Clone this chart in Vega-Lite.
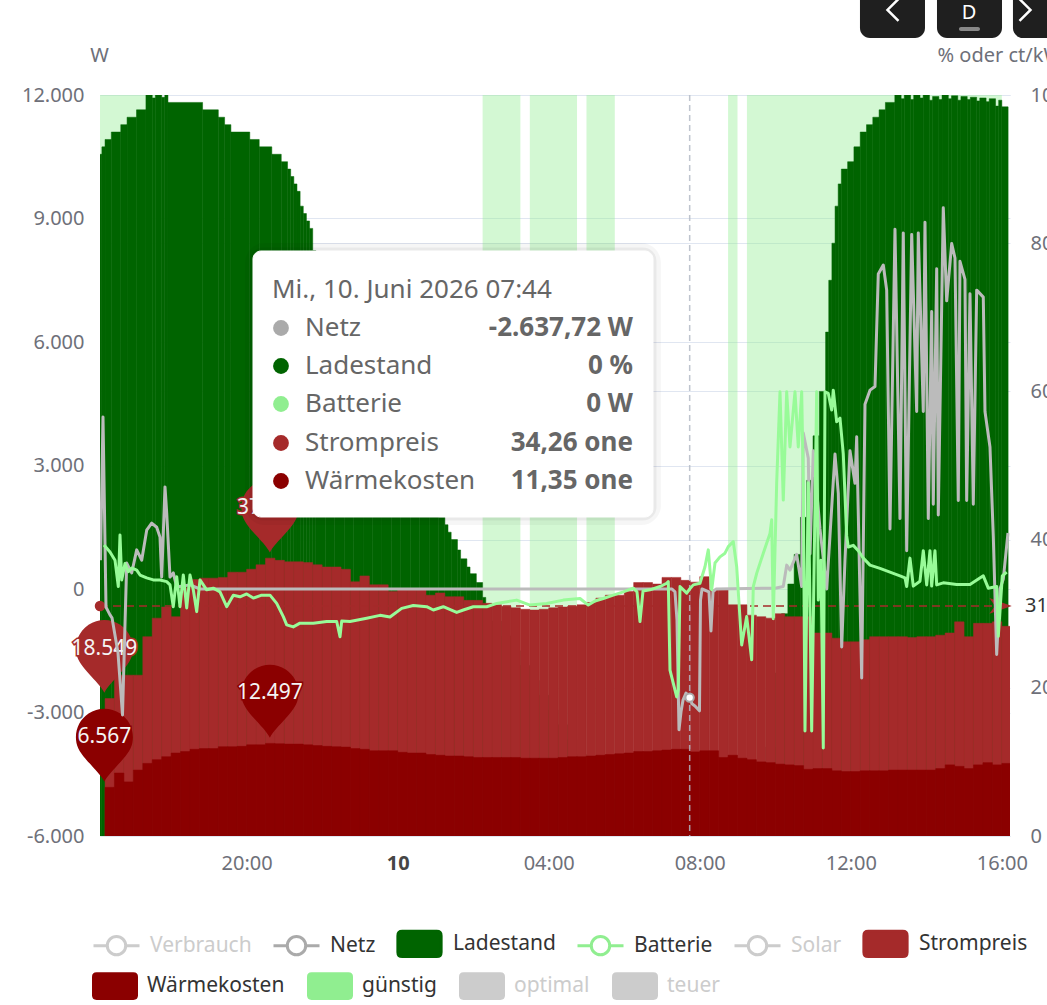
{
"$schema":"https://vega.github.io/schema/vega-lite/v6.json",
"width":910,"height":741,
"autosize":{"type":"none"},
"padding":{"left":100,"top":95,"right":37,"bottom":169},
"background":"white",
"config":{"font":"Noto Sans","view":{"stroke":null},
"axis":{"labelFont":"Noto Sans","labelFontSize":20,"labelColor":"#6e7079","titleFont":"Noto Sans","titleFontSize":20,"titleColor":"#6e7079","titleFontWeight":"normal","ticks":false,"domain":false,"gridColor":"#e0e6f1","gridWidth":1}},
"datasets":{
"bands":[
{"t":"2026-06-09T16:00","e":"2026-06-09T17:45"},
{"t":"2026-06-10T02:15","e":"2026-06-10T03:15"},
{"t":"2026-06-10T03:30","e":"2026-06-10T04:45"},
{"t":"2026-06-10T05:00","e":"2026-06-10T05:45"},
{"t":"2026-06-10T08:45","e":"2026-06-10T09:00"},
{"t":"2026-06-10T09:15","e":"2026-06-10T16:00"}],
"soc":[
{"t":"2026-06-09T16:00","e":"2026-06-09T16:10","soc":92},
{"t":"2026-06-09T16:10","e":"2026-06-09T16:15","soc":93},
{"t":"2026-06-09T16:15","e":"2026-06-09T16:25","soc":94},
{"t":"2026-06-09T16:25","e":"2026-06-09T16:40","soc":95},
{"t":"2026-06-09T16:40","e":"2026-06-09T16:50","soc":96},
{"t":"2026-06-09T16:50","e":"2026-06-09T17:05","soc":97},
{"t":"2026-06-09T17:05","e":"2026-06-09T17:20","soc":98},
{"t":"2026-06-09T17:20","e":"2026-06-09T17:30","soc":100},
{"t":"2026-06-09T17:30","e":"2026-06-09T17:35","soc":99.6},
{"t":"2026-06-09T17:35","e":"2026-06-09T17:45","soc":100},
{"t":"2026-06-09T17:45","e":"2026-06-09T17:50","soc":99.7},
{"t":"2026-06-09T17:50","e":"2026-06-09T17:55","soc":100},
{"t":"2026-06-09T17:55","e":"2026-06-09T18:50","soc":99},
{"t":"2026-06-09T18:50","e":"2026-06-09T19:15","soc":98},
{"t":"2026-06-09T19:15","e":"2026-06-09T19:25","soc":97},
{"t":"2026-06-09T19:25","e":"2026-06-09T19:35","soc":96},
{"t":"2026-06-09T19:35","e":"2026-06-09T20:05","soc":95},
{"t":"2026-06-09T20:05","e":"2026-06-09T20:20","soc":94},
{"t":"2026-06-09T20:20","e":"2026-06-09T20:40","soc":93},
{"t":"2026-06-09T20:40","e":"2026-06-09T20:55","soc":92},
{"t":"2026-06-09T20:55","e":"2026-06-09T21:05","soc":91},
{"t":"2026-06-09T21:05","e":"2026-06-09T21:10","soc":90},
{"t":"2026-06-09T21:10","e":"2026-06-09T21:15","soc":89},
{"t":"2026-06-09T21:15","e":"2026-06-09T21:20","soc":88},
{"t":"2026-06-09T21:20","e":"2026-06-09T21:25","soc":87},
{"t":"2026-06-09T21:25","e":"2026-06-09T21:30","soc":85},
{"t":"2026-06-09T21:30","e":"2026-06-09T21:35","soc":84},
{"t":"2026-06-09T21:35","e":"2026-06-09T21:40","soc":83},
{"t":"2026-06-09T21:40","e":"2026-06-09T21:45","soc":82},
{"t":"2026-06-09T21:45","e":"2026-06-09T21:50","soc":79},
{"t":"2026-06-09T21:50","e":"2026-06-09T22:05","soc":77},
{"t":"2026-06-09T22:05","e":"2026-06-09T22:20","soc":75},
{"t":"2026-06-09T22:20","e":"2026-06-09T22:35","soc":73},
{"t":"2026-06-09T22:35","e":"2026-06-09T22:50","soc":71},
{"t":"2026-06-09T22:50","e":"2026-06-09T23:05","soc":68},
{"t":"2026-06-09T23:05","e":"2026-06-09T23:20","soc":66},
{"t":"2026-06-09T23:20","e":"2026-06-09T23:35","soc":63},
{"t":"2026-06-09T23:35","e":"2026-06-09T23:50","soc":61},
{"t":"2026-06-09T23:50","e":"2026-06-10T00:05","soc":58},
{"t":"2026-06-10T00:05","e":"2026-06-10T00:20","soc":56},
{"t":"2026-06-10T00:20","e":"2026-06-10T00:35","soc":53},
{"t":"2026-06-10T00:35","e":"2026-06-10T00:50","soc":50},
{"t":"2026-06-10T00:50","e":"2026-06-10T01:05","soc":47},
{"t":"2026-06-10T01:05","e":"2026-06-10T01:15","soc":43},
{"t":"2026-06-10T01:15","e":"2026-06-10T01:20","soc":42},
{"t":"2026-06-10T01:20","e":"2026-06-10T01:25","soc":41},
{"t":"2026-06-10T01:25","e":"2026-06-10T01:35","soc":40},
{"t":"2026-06-10T01:35","e":"2026-06-10T01:40","soc":38.6},
{"t":"2026-06-10T01:40","e":"2026-06-10T01:50","soc":37.4},
{"t":"2026-06-10T01:50","e":"2026-06-10T01:55","soc":36.3},
{"t":"2026-06-10T01:55","e":"2026-06-10T02:05","soc":35.4},
{"t":"2026-06-10T02:05","e":"2026-06-10T02:15","soc":34.2},
{"t":"2026-06-10T02:15","e":"2026-06-10T02:20","soc":32.2},
{"t":"2026-06-10T02:20","e":"2026-06-10T02:30","soc":31.3},
{"t":"2026-06-10T02:30","e":"2026-06-10T02:45","soc":29},
{"t":"2026-06-10T02:45","e":"2026-06-10T03:00","soc":27},
{"t":"2026-06-10T03:00","e":"2026-06-10T03:15","soc":25},
{"t":"2026-06-10T03:15","e":"2026-06-10T03:30","soc":23},
{"t":"2026-06-10T03:30","e":"2026-06-10T03:45","soc":21},
{"t":"2026-06-10T03:45","e":"2026-06-10T04:00","soc":19},
{"t":"2026-06-10T04:00","e":"2026-06-10T04:15","soc":17},
{"t":"2026-06-10T04:15","e":"2026-06-10T04:30","soc":15},
{"t":"2026-06-10T04:30","e":"2026-06-10T04:45","soc":13},
{"t":"2026-06-10T04:45","e":"2026-06-10T05:00","soc":11},
{"t":"2026-06-10T05:00","e":"2026-06-10T05:15","soc":9},
{"t":"2026-06-10T05:15","e":"2026-06-10T05:30","soc":7},
{"t":"2026-06-10T05:30","e":"2026-06-10T05:45","soc":5},
{"t":"2026-06-10T05:45","e":"2026-06-10T06:00","soc":3},
{"t":"2026-06-10T06:00","e":"2026-06-10T06:15","soc":1},
{"t":"2026-06-10T09:45","e":"2026-06-10T10:00","soc":12},
{"t":"2026-06-10T10:00","e":"2026-06-10T10:05","soc":22},
{"t":"2026-06-10T10:05","e":"2026-06-10T10:10","soc":26},
{"t":"2026-06-10T10:10","e":"2026-06-10T10:20","soc":30},
{"t":"2026-06-10T10:20","e":"2026-06-10T10:30","soc":34},
{"t":"2026-06-10T10:30","e":"2026-06-10T10:40","soc":38},
{"t":"2026-06-10T10:40","e":"2026-06-10T10:50","soc":43},
{"t":"2026-06-10T10:50","e":"2026-06-10T11:00","soc":48},
{"t":"2026-06-10T11:00","e":"2026-06-10T11:10","soc":54},
{"t":"2026-06-10T11:10","e":"2026-06-10T11:20","soc":60},
{"t":"2026-06-10T11:20","e":"2026-06-10T11:25","soc":68},
{"t":"2026-06-10T11:25","e":"2026-06-10T11:30","soc":75},
{"t":"2026-06-10T11:30","e":"2026-06-10T11:35","soc":80},
{"t":"2026-06-10T11:35","e":"2026-06-10T11:40","soc":85},
{"t":"2026-06-10T11:40","e":"2026-06-10T11:45","soc":88},
{"t":"2026-06-10T11:45","e":"2026-06-10T11:55","soc":90},
{"t":"2026-06-10T11:55","e":"2026-06-10T12:05","soc":91},
{"t":"2026-06-10T12:05","e":"2026-06-10T12:15","soc":93},
{"t":"2026-06-10T12:15","e":"2026-06-10T12:25","soc":95},
{"t":"2026-06-10T12:25","e":"2026-06-10T12:35","soc":96},
{"t":"2026-06-10T12:35","e":"2026-06-10T12:45","soc":97},
{"t":"2026-06-10T12:45","e":"2026-06-10T12:55","soc":98},
{"t":"2026-06-10T12:55","e":"2026-06-10T13:10","soc":99},
{"t":"2026-06-10T13:10","e":"2026-06-10T13:20","soc":100},
{"t":"2026-06-10T13:20","e":"2026-06-10T13:25","soc":99.5},
{"t":"2026-06-10T13:25","e":"2026-06-10T13:35","soc":100},
{"t":"2026-06-10T13:35","e":"2026-06-10T13:40","soc":99.4},
{"t":"2026-06-10T13:40","e":"2026-06-10T13:50","soc":100},
{"t":"2026-06-10T13:50","e":"2026-06-10T13:55","soc":99.6},
{"t":"2026-06-10T13:55","e":"2026-06-10T14:05","soc":100},
{"t":"2026-06-10T14:05","e":"2026-06-10T14:10","soc":99.3},
{"t":"2026-06-10T14:10","e":"2026-06-10T14:20","soc":99.8},
{"t":"2026-06-10T14:20","e":"2026-06-10T14:25","soc":99.4},
{"t":"2026-06-10T14:25","e":"2026-06-10T14:35","soc":100},
{"t":"2026-06-10T14:35","e":"2026-06-10T14:40","soc":99.5},
{"t":"2026-06-10T14:40","e":"2026-06-10T14:50","soc":99.9},
{"t":"2026-06-10T14:50","e":"2026-06-10T14:55","soc":99.3},
{"t":"2026-06-10T14:55","e":"2026-06-10T15:05","soc":99.8},
{"t":"2026-06-10T15:05","e":"2026-06-10T15:10","soc":99.4},
{"t":"2026-06-10T15:10","e":"2026-06-10T15:20","soc":99.7},
{"t":"2026-06-10T15:20","e":"2026-06-10T15:25","soc":99.2},
{"t":"2026-06-10T15:25","e":"2026-06-10T15:35","soc":99.6},
{"t":"2026-06-10T15:35","e":"2026-06-10T15:40","soc":99.1},
{"t":"2026-06-10T15:40","e":"2026-06-10T15:50","soc":99.5},
{"t":"2026-06-10T15:50","e":"2026-06-10T15:55","soc":98.5},
{"t":"2026-06-10T15:55","e":"2026-06-10T16:00","soc":99.3},
{"t":"2026-06-10T16:00","e":"2026-06-10T16:10","soc":98.4}],
"price":[
{"t":"2026-06-09T16:15","e":"2026-06-09T16:30","p":18.549,"w":6.567},
{"t":"2026-06-09T16:30","e":"2026-06-09T16:45","p":21.7,"w":8.5},
{"t":"2026-06-09T16:45","e":"2026-06-09T17:00","p":21.7,"w":7.3},
{"t":"2026-06-09T17:00","e":"2026-06-09T17:15","p":21.7,"w":8.9},
{"t":"2026-06-09T17:15","e":"2026-06-09T17:30","p":26.9,"w":9.8},
{"t":"2026-06-09T17:30","e":"2026-06-09T17:45","p":29.4,"w":10.3},
{"t":"2026-06-09T17:45","e":"2026-06-09T18:00","p":30.9,"w":10.7},
{"t":"2026-06-09T18:00","e":"2026-06-09T18:15","p":29.6,"w":11.2},
{"t":"2026-06-09T18:15","e":"2026-06-09T18:30","p":33.5,"w":11.4},
{"t":"2026-06-09T18:30","e":"2026-06-09T18:45","p":34.6,"w":11.7},
{"t":"2026-06-09T18:45","e":"2026-06-09T19:00","p":34.8,"w":11.8},
{"t":"2026-06-09T19:00","e":"2026-06-09T19:15","p":34.8,"w":11.8},
{"t":"2026-06-09T19:15","e":"2026-06-09T19:30","p":34.9,"w":12.05},
{"t":"2026-06-09T19:30","e":"2026-06-09T19:45","p":35.6,"w":12.05},
{"t":"2026-06-09T19:45","e":"2026-06-09T20:00","p":35.6,"w":12.1},
{"t":"2026-06-09T20:00","e":"2026-06-09T20:15","p":36.0,"w":12.3},
{"t":"2026-06-09T20:15","e":"2026-06-09T20:30","p":36.6,"w":12.3},
{"t":"2026-06-09T20:30","e":"2026-06-09T20:45","p":37.5,"w":12.497},
{"t":"2026-06-09T20:45","e":"2026-06-09T21:00","p":37.2,"w":12.45},
{"t":"2026-06-09T21:00","e":"2026-06-09T21:15","p":37.0,"w":12.4},
{"t":"2026-06-09T21:15","e":"2026-06-09T21:30","p":37.0,"w":12.4},
{"t":"2026-06-09T21:30","e":"2026-06-09T21:45","p":36.9,"w":12.3},
{"t":"2026-06-09T21:45","e":"2026-06-09T22:00","p":36.6,"w":12.2},
{"t":"2026-06-09T22:00","e":"2026-06-09T22:15","p":36.3,"w":12.1},
{"t":"2026-06-09T22:15","e":"2026-06-09T22:30","p":36.3,"w":12.05},
{"t":"2026-06-09T22:30","e":"2026-06-09T22:45","p":36.0,"w":12.0},
{"t":"2026-06-09T22:45","e":"2026-06-09T23:00","p":34.3,"w":11.8},
{"t":"2026-06-09T23:00","e":"2026-06-09T23:15","p":35.1,"w":11.7},
{"t":"2026-06-09T23:15","e":"2026-06-09T23:30","p":33.9,"w":11.5},
{"t":"2026-06-09T23:30","e":"2026-06-09T23:45","p":33.9,"w":11.5},
{"t":"2026-06-09T23:45","e":"2026-06-10T00:00","p":33.0,"w":11.5},
{"t":"2026-06-10T00:00","e":"2026-06-10T00:15","p":33.2,"w":11.3},
{"t":"2026-06-10T00:15","e":"2026-06-10T00:30","p":33.2,"w":11.2},
{"t":"2026-06-10T00:30","e":"2026-06-10T00:45","p":33.2,"w":11.2},
{"t":"2026-06-10T00:45","e":"2026-06-10T01:00","p":32.5,"w":11.0},
{"t":"2026-06-10T01:00","e":"2026-06-10T01:15","p":32.8,"w":10.9},
{"t":"2026-06-10T01:15","e":"2026-06-10T01:30","p":32.3,"w":10.8},
{"t":"2026-06-10T01:30","e":"2026-06-10T01:45","p":32.3,"w":10.8},
{"t":"2026-06-10T01:45","e":"2026-06-10T02:00","p":31.8,"w":10.7},
{"t":"2026-06-10T02:00","e":"2026-06-10T02:15","p":31.8,"w":10.6},
{"t":"2026-06-10T02:15","e":"2026-06-10T02:30","p":31.4,"w":10.6},
{"t":"2026-06-10T02:30","e":"2026-06-10T02:45","p":31.2,"w":10.6},
{"t":"2026-06-10T02:45","e":"2026-06-10T03:00","p":31.0,"w":10.6},
{"t":"2026-06-10T03:00","e":"2026-06-10T03:15","p":30.8,"w":10.6},
{"t":"2026-06-10T03:15","e":"2026-06-10T03:30","p":30.6,"w":10.5},
{"t":"2026-06-10T03:30","e":"2026-06-10T03:45","p":30.5,"w":10.5},
{"t":"2026-06-10T03:45","e":"2026-06-10T04:00","p":30.6,"w":10.5},
{"t":"2026-06-10T04:00","e":"2026-06-10T04:15","p":30.8,"w":10.5},
{"t":"2026-06-10T04:15","e":"2026-06-10T04:30","p":30.9,"w":10.6},
{"t":"2026-06-10T04:30","e":"2026-06-10T04:45","p":31.0,"w":10.7},
{"t":"2026-06-10T04:45","e":"2026-06-10T05:00","p":31.2,"w":10.7},
{"t":"2026-06-10T05:00","e":"2026-06-10T05:15","p":31.5,"w":10.8},
{"t":"2026-06-10T05:15","e":"2026-06-10T05:30","p":32.1,"w":10.9},
{"t":"2026-06-10T05:30","e":"2026-06-10T05:45","p":32.5,"w":11.0},
{"t":"2026-06-10T05:45","e":"2026-06-10T06:00","p":32.5,"w":11.1},
{"t":"2026-06-10T06:00","e":"2026-06-10T06:15","p":33.0,"w":11.2},
{"t":"2026-06-10T06:15","e":"2026-06-10T06:30","p":34.2,"w":11.4},
{"t":"2026-06-10T06:30","e":"2026-06-10T06:45","p":34.2,"w":11.4},
{"t":"2026-06-10T06:45","e":"2026-06-10T07:00","p":34.0,"w":11.5},
{"t":"2026-06-10T07:00","e":"2026-06-10T07:15","p":34.9,"w":11.6},
{"t":"2026-06-10T07:15","e":"2026-06-10T07:30","p":34.9,"w":11.7},
{"t":"2026-06-10T07:30","e":"2026-06-10T07:45","p":34.5,"w":11.7},
{"t":"2026-06-10T07:45","e":"2026-06-10T08:00","p":34.26,"w":11.35},
{"t":"2026-06-10T08:00","e":"2026-06-10T08:15","p":35.0,"w":11.5},
{"t":"2026-06-10T08:15","e":"2026-06-10T08:30","p":33.2,"w":11.5},
{"t":"2026-06-10T08:30","e":"2026-06-10T08:45","p":33.2,"w":10.6},
{"t":"2026-06-10T08:45","e":"2026-06-10T09:00","p":31.2,"w":10.9},
{"t":"2026-06-10T09:00","e":"2026-06-10T09:15","p":31.2,"w":10.5},
{"t":"2026-06-10T09:15","e":"2026-06-10T09:30","p":29.8,"w":10.3},
{"t":"2026-06-10T09:30","e":"2026-06-10T09:45","p":29.6,"w":10.0},
{"t":"2026-06-10T09:45","e":"2026-06-10T10:00","p":29.4,"w":9.9},
{"t":"2026-06-10T10:00","e":"2026-06-10T10:15","p":30.0,"w":9.7},
{"t":"2026-06-10T10:15","e":"2026-06-10T10:30","p":29.6,"w":9.6},
{"t":"2026-06-10T10:30","e":"2026-06-10T10:45","p":29.6,"w":9.5},
{"t":"2026-06-10T10:45","e":"2026-06-10T11:00","p":29.6,"w":9.0},
{"t":"2026-06-10T11:00","e":"2026-06-10T11:15","p":27.4,"w":9.1},
{"t":"2026-06-10T11:15","e":"2026-06-10T11:30","p":27.4,"w":9.1},
{"t":"2026-06-10T11:30","e":"2026-06-10T11:45","p":26.7,"w":8.8},
{"t":"2026-06-10T11:45","e":"2026-06-10T12:00","p":26.2,"w":8.7},
{"t":"2026-06-10T12:00","e":"2026-06-10T12:15","p":26.2,"w":8.7},
{"t":"2026-06-10T12:15","e":"2026-06-10T12:30","p":26.5,"w":8.8},
{"t":"2026-06-10T12:30","e":"2026-06-10T12:45","p":26.9,"w":8.8},
{"t":"2026-06-10T12:45","e":"2026-06-10T13:00","p":26.9,"w":8.8},
{"t":"2026-06-10T13:00","e":"2026-06-10T13:15","p":26.9,"w":8.9},
{"t":"2026-06-10T13:15","e":"2026-06-10T13:30","p":26.9,"w":8.9},
{"t":"2026-06-10T13:30","e":"2026-06-10T13:45","p":26.8,"w":8.9},
{"t":"2026-06-10T13:45","e":"2026-06-10T14:00","p":26.9,"w":8.9},
{"t":"2026-06-10T14:00","e":"2026-06-10T14:15","p":26.9,"w":8.9},
{"t":"2026-06-10T14:15","e":"2026-06-10T14:30","p":27.1,"w":9.1},
{"t":"2026-06-10T14:30","e":"2026-06-10T14:45","p":27.4,"w":9.6},
{"t":"2026-06-10T14:45","e":"2026-06-10T15:00","p":28.9,"w":9.4},
{"t":"2026-06-10T15:00","e":"2026-06-10T15:15","p":26.9,"w":9.1},
{"t":"2026-06-10T15:15","e":"2026-06-10T15:30","p":28.7,"w":9.6},
{"t":"2026-06-10T15:30","e":"2026-06-10T15:45","p":28.7,"w":9.9},
{"t":"2026-06-10T15:45","e":"2026-06-10T16:00","p":28.9,"w":9.6},
{"t":"2026-06-10T16:00","e":"2026-06-10T16:15","p":28.3,"w":9.8}],
"pins":[
{"t":"2026-06-09T16:14","v":18.549,"s":"Strompreis","l":"18.549"},
{"t":"2026-06-09T20:37","v":37.5,"s":"Strompreis","l":"37.512"},
{"t":"2026-06-09T16:14","v":6.567,"s":"Wärmekosten","l":"6.567"},
{"t":"2026-06-09T20:37","v":12.497,"s":"Wärmekosten","l":"12.497"}],
"netz":[
{"t":"2026-06-09T16:07:48","v":700},{"t":"2026-06-09T16:11:46","v":4180},{"t":"2026-06-09T16:16:32","v":-440},{"t":"2026-06-09T16:22:53","v":-630},{"t":"2026-06-09T16:26:04","v":-700},{"t":"2026-06-09T16:35:36","v":-1550},{"t":"2026-06-09T16:42:45","v":-3060},{"t":"2026-06-09T16:49:26","v":630},{"t":"2026-06-09T16:57:22","v":390},{"t":"2026-06-09T17:05:19","v":950},{"t":"2026-06-09T17:13:16","v":700},{"t":"2026-06-09T17:21:12","v":1430},{"t":"2026-06-09T17:29:09","v":1600},{"t":"2026-06-09T17:37:06","v":1500},{"t":"2026-06-09T17:42:20","v":1260},{"t":"2026-06-09T17:45:02","v":290},{"t":"2026-06-09T17:50:17","v":2480},{"t":"2026-06-09T17:52:59","v":1850},{"t":"2026-06-09T17:58:14","v":290},{"t":"2026-06-09T18:03:28","v":390},{"t":"2026-06-09T18:08:52","v":50},{"t":"2026-06-09T18:30:00","v":100},{"t":"2026-06-09T18:45:54","v":0},
{"t":"2026-06-10T07:15:54","v":0},{"t":"2026-06-10T07:20:40","v":-70},{"t":"2026-06-10T07:23:50","v":-750},{"t":"2026-06-10T07:27:01","v":-3420},{"t":"2026-06-10T07:30:12","v":-2990},{"t":"2026-06-10T07:33:23","v":-2700},{"t":"2026-06-10T07:38:09","v":-2530},{"t":"2026-06-10T07:41:20","v":-2570},{"t":"2026-06-10T07:44:00","v":-2637.72},{"t":"2026-06-10T07:47:42","v":-2790},{"t":"2026-06-10T07:52:26","v":-2840},{"t":"2026-06-10T07:59:35","v":-2960},{"t":"2026-06-10T08:01:11","v":-270},{"t":"2026-06-10T08:03:34","v":0},{"t":"2026-06-10T08:14:41","v":-70},{"t":"2026-06-10T08:17:52","v":-1020},{"t":"2026-06-10T08:21:03","v":-70},{"t":"2026-06-10T08:25:48","v":0},{"t":"2026-06-10T09:59:34","v":20},
{"t":"2026-06-10T10:12:45","v":60},{"t":"2026-06-10T10:18:09","v":580},{"t":"2026-06-10T10:23:24","v":460},{"t":"2026-06-10T10:34:02","v":840},{"t":"2026-06-10T10:41:59","v":60},{"t":"2026-06-10T10:44:32","v":3790},{"t":"2026-06-10T10:52:28","v":3180},{"t":"2026-06-10T10:55:11","v":850},{"t":"2026-06-10T11:00:25","v":3360},{"t":"2026-06-10T11:11:04","v":1460},{"t":"2026-06-10T11:21:43","v":0},{"t":"2026-06-10T11:34:54","v":3280},{"t":"2026-06-10T11:40:09","v":2320},{"t":"2026-06-10T11:45:33","v":-1410},{"t":"2026-06-10T11:50:47","v":700},{"t":"2026-06-10T11:58:44","v":3360},{"t":"2026-06-10T12:06:41","v":2570},{"t":"2026-06-10T12:09:23","v":3700},{"t":"2026-06-10T12:17:20","v":-2160},{"t":"2026-06-10T12:22:34","v":4490},{"t":"2026-06-10T12:30:31","v":4830},{"t":"2026-06-10T12:38:28","v":4920},{"t":"2026-06-10T12:43:42","v":7650},{"t":"2026-06-10T12:51:39","v":7870},{"t":"2026-06-10T12:57:03","v":7260},{"t":"2026-06-10T13:02:17","v":1460},{"t":"2026-06-10T13:10:14","v":8740},{"t":"2026-06-10T13:18:11","v":1710},{"t":"2026-06-10T13:23:26","v":8650},{"t":"2026-06-10T13:28:50","v":930},{"t":"2026-06-10T13:36:47","v":8610},{"t":"2026-06-10T13:44:43","v":4310},{"t":"2026-06-10T13:47:16","v":8650},{"t":"2026-06-10T13:55:13","v":4310},{"t":"2026-06-10T13:57:55","v":8910},{"t":"2026-06-10T14:03:09","v":1710},{"t":"2026-06-10T14:08:33","v":6740},{"t":"2026-06-10T14:11:06","v":2060},{"t":"2026-06-10T14:16:30","v":7780},{"t":"2026-06-10T14:19:02","v":1800},{"t":"2026-06-10T14:26:59","v":9260},{"t":"2026-06-10T14:32:23","v":7000},{"t":"2026-06-10T14:40:20","v":8390},{"t":"2026-06-10T14:45:35","v":8040},{"t":"2026-06-10T14:50:49","v":2150},{"t":"2026-06-10T14:53:31","v":7960},{"t":"2026-06-10T15:01:28","v":7520},{"t":"2026-06-10T15:04:10","v":2150},{"t":"2026-06-10T15:09:25","v":7170},{"t":"2026-06-10T15:14:40","v":2060},{"t":"2026-06-10T15:20:04","v":7260},{"t":"2026-06-10T15:30:33","v":7090},{"t":"2026-06-10T15:33:15","v":4310},{"t":"2026-06-10T15:41:11","v":3450},{"t":"2026-06-10T15:46:26","v":1290},{"t":"2026-06-10T15:51:50","v":-1590},{"t":"2026-06-10T15:57:05","v":0},{"t":"2026-06-10T16:02:20","v":240},{"t":"2026-06-10T16:09:47","v":1360}],
"batt":[
{"t":"2026-06-09T16:13:22","v":1070},{"t":"2026-06-09T16:22:53","v":900},{"t":"2026-06-09T16:30:50","v":700},{"t":"2026-06-09T16:36:05","v":60},{"t":"2026-06-09T16:38:47","v":1310},{"t":"2026-06-09T16:41:29","v":220},{"t":"2026-06-09T16:46:43","v":620},{"t":"2026-06-09T16:51:58","v":420},{"t":"2026-06-09T16:57:22","v":510},{"t":"2026-06-09T17:05:19","v":460},{"t":"2026-06-09T17:10:34","v":340},{"t":"2026-06-09T17:21:12","v":270},{"t":"2026-06-09T17:31:41","v":220},{"t":"2026-06-09T17:42:20","v":220},{"t":"2026-06-09T17:52:59","v":180},{"t":"2026-06-09T17:58:14","v":100},{"t":"2026-06-09T18:03:28","v":-430},{"t":"2026-06-09T18:08:52","v":300},{"t":"2026-06-09T18:14:07","v":-430},{"t":"2026-06-09T18:19:22","v":340},{"t":"2026-06-09T18:24:46","v":-460},{"t":"2026-06-09T18:30:01","v":340},{"t":"2026-06-09T18:35:15","v":-20},{"t":"2026-06-09T18:40:39","v":-550},{"t":"2026-06-09T18:45:54","v":220},{"t":"2026-06-09T18:56:32","v":-20},{"t":"2026-06-09T19:07:02","v":20},{"t":"2026-06-09T19:17:41","v":-70},{"t":"2026-06-09T19:28:19","v":-430},{"t":"2026-06-09T19:38:49","v":-150},{"t":"2026-06-09T19:49:28","v":-190},{"t":"2026-06-09T20:00:06","v":-120},{"t":"2026-06-09T20:10:35","v":-220},{"t":"2026-06-09T20:23:56","v":-150},{"t":"2026-06-09T20:37:08","v":-150},{"t":"2026-06-09T20:47:46","v":-350},{"t":"2026-06-09T20:58:16","v":-670},{"t":"2026-06-09T21:03:40","v":-870},{"t":"2026-06-09T21:14:09","v":-920},{"t":"2026-06-09T21:24:48","v":-830},{"t":"2026-06-09T21:45:56","v":-830},{"t":"2026-06-09T22:07:13","v":-790},{"t":"2026-06-09T22:23:07","v":-790},{"t":"2026-06-09T22:28:22","v":-1160},{"t":"2026-06-09T22:31:04","v":-780},{"t":"2026-06-09T22:44:15","v":-790},{"t":"2026-06-09T23:10:47","v":-710},{"t":"2026-06-09T23:31:55","v":-640},{"t":"2026-06-09T23:47:48","v":-680},
{"t":"2026-06-10T00:06:24","v":-470},{"t":"2026-06-10T00:24:50","v":-400},{"t":"2026-06-10T00:46:07","v":-430},{"t":"2026-06-10T00:56:37","v":-510},{"t":"2026-06-10T01:12:30","v":-430},{"t":"2026-06-10T01:33:47","v":-570},{"t":"2026-06-10T01:44:17","v":-510},{"t":"2026-06-10T02:00:10","v":-430},{"t":"2026-06-10T02:21:28","v":-430},{"t":"2026-06-10T02:37:21","v":-350},{"t":"2026-06-10T03:09:08","v":-270},{"t":"2026-06-10T03:30:16","v":-390},{"t":"2026-06-10T03:56:48","v":-350},{"t":"2026-06-10T04:23:10","v":-270},{"t":"2026-06-10T04:49:43","v":-230},{"t":"2026-06-10T05:02:54","v":-390},{"t":"2026-06-10T05:13:33","v":-290},{"t":"2026-06-10T05:26:44","v":-230},{"t":"2026-06-10T05:42:37","v":-150},{"t":"2026-06-10T05:58:31","v":-70},{"t":"2026-06-10T06:14:24","v":20},{"t":"2026-06-10T06:20:17","v":-70},{"t":"2026-06-10T06:25:03","v":-790},{"t":"2026-06-10T06:29:49","v":-50},{"t":"2026-06-10T06:40:56","v":-20},{"t":"2026-06-10T06:56:50","v":60},{"t":"2026-06-10T07:07:29","v":140},{"t":"2026-06-10T07:10:01","v":180},{"t":"2026-06-10T07:12:43","v":-1970},{"t":"2026-06-10T07:23:22","v":-2620},{"t":"2026-06-10T07:25:55","v":-2450},{"t":"2026-06-10T07:28:37","v":60},{"t":"2026-06-10T07:39:16","v":-100},{"t":"2026-06-10T07:44:00","v":0},{"t":"2026-06-10T07:49:44","v":100},{"t":"2026-06-10T08:00:23","v":140},{"t":"2026-06-10T08:08:20","v":540},{"t":"2026-06-10T08:13:35","v":950},{"t":"2026-06-10T08:18:59","v":-20},{"t":"2026-06-10T08:24:13","v":630},{"t":"2026-06-10T08:32:10","v":780},{"t":"2026-06-10T08:40:07","v":870},{"t":"2026-06-10T08:45:22","v":1030},{"t":"2026-06-10T08:53:18","v":1150},{"t":"2026-06-10T08:58:42","v":540},{"t":"2026-06-10T09:06:39","v":-1360},{"t":"2026-06-10T09:14:35","v":-670},{"t":"2026-06-10T09:22:32","v":-1720},{"t":"2026-06-10T09:25:05","v":60},{"t":"2026-06-10T09:30:29","v":380},{"t":"2026-06-10T09:40:58","v":870},{"t":"2026-06-10T09:51:37","v":1350},{"t":"2026-06-10T09:54:19","v":1680},{"t":"2026-06-10T09:56:52","v":-720},{"t":"2026-06-10T10:02:16","v":2580},{"t":"2026-06-10T10:07:31","v":4790},{"t":"2026-06-10T10:12:45","v":2160},{"t":"2026-06-10T10:18:09","v":4790},{"t":"2026-06-10T10:23:24","v":3450},{"t":"2026-06-10T10:31:20","v":4790},{"t":"2026-06-10T10:36:35","v":3450},{"t":"2026-06-10T10:41:59","v":4790},{"t":"2026-06-10T10:44:32","v":2580},{"t":"2026-06-10T10:47:14","v":-3450},{"t":"2026-06-10T10:52:28","v":2580},{"t":"2026-06-10T10:57:52","v":-3450},{"t":"2026-06-10T11:05:49","v":4790},{"t":"2026-06-10T11:08:22","v":-270},{"t":"2026-06-10T11:12:39","v":700},{"t":"2026-06-10T11:16:18","v":-3860},{"t":"2026-06-10T11:19:01","v":4790},{"t":"2026-06-10T11:24:15","v":4750},{"t":"2026-06-10T11:29:39","v":4350},{"t":"2026-06-10T11:32:12","v":4830},{"t":"2026-06-10T11:37:36","v":4060},{"t":"2026-06-10T11:42:51","v":4150},{"t":"2026-06-10T11:48:05","v":3280},{"t":"2026-06-10T11:53:29","v":1290},{"t":"2026-06-10T11:56:02","v":1020},{"t":"2026-06-10T12:03:59","v":1060},{"t":"2026-06-10T12:11:56","v":930},{"t":"2026-06-10T12:19:52","v":750},{"t":"2026-06-10T12:30:31","v":580},{"t":"2026-06-10T12:46:24","v":500},{"t":"2026-06-10T13:02:17","v":410},{"t":"2026-06-10T13:18:11","v":320},{"t":"2026-06-10T13:26:08","v":270},{"t":"2026-06-10T13:28:50","v":60},{"t":"2026-06-10T13:34:04","v":750},{"t":"2026-06-10T13:39:19","v":70},{"t":"2026-06-10T13:49:58","v":190},{"t":"2026-06-10T13:55:13","v":930},{"t":"2026-06-10T14:00:37","v":100},{"t":"2026-06-10T14:05:51","v":930},{"t":"2026-06-10T14:08:33","v":70},{"t":"2026-06-10T14:13:48","v":930},{"t":"2026-06-10T14:16:30","v":100},{"t":"2026-06-10T14:26:59","v":150},{"t":"2026-06-10T14:48:17","v":110},{"t":"2026-06-10T15:09:25","v":110},{"t":"2026-06-10T15:30:33","v":320},{"t":"2026-06-10T15:38:30","v":20},{"t":"2026-06-10T15:51:50","v":60},{"t":"2026-06-10T15:54:23","v":-1150},{"t":"2026-06-10T16:00:47","v":320},{"t":"2026-06-10T16:07:44","v":410}],
"tip":[
{"n":"Netz","s":"-2.637,72 W","v":6340},
{"n":"Ladestand","s":"0 %","v":5417},
{"n":"Batterie","s":"0 W","v":4494},
{"n":"Strompreis","s":"34,26 one","v":3547},
{"n":"Wärmekosten","s":"11,35 one","v":2624}],
"buttons":[
{"t":"2026-06-10T12:14:36","e":"2026-06-10T13:57:55"},
{"t":"2026-06-10T14:16:59","e":"2026-06-10T16:00:18"},
{"t":"2026-06-10T16:17:42","e":"2026-06-10T18:30:00"}]
},
"layer":[
{"data":{"name":"bands"},"mark":{"type":"rect","color":"#90ee90","opacity":0.4,"clip":true},
"encoding":{
"x":{"field":"t","type":"temporal","title":null,"scale":{"domain":[{"year":2026,"month":6,"date":9,"hours":16,"minutes":7},{"year":2026,"month":6,"date":10,"hours":16,"minutes":13}]},
"axis":{"values":[{"year":2026,"month":6,"date":9,"hours":20},{"year":2026,"month":6,"date":10,"hours":0},{"year":2026,"month":6,"date":10,"hours":4},{"year":2026,"month":6,"date":10,"hours":8},{"year":2026,"month":6,"date":10,"hours":12},{"year":2026,"month":6,"date":10,"hours":16}],
"labelExpr":"hours(datum.value) == 0 ? '' + date(datum.value) : timeFormat(datum.value, '%H:%M')",
"labelFontWeight":{"condition":{"test":"hours(datum.value) == 0","value":"bold"},"value":"normal"},
"labelColor":{"condition":{"test":"hours(datum.value) == 0","value":"#464646"},"value":"#6e7079"},
"labelPadding":17,"grid":false,"title":null,"labelFlush":false,"labelOverlap":false}},
"x2":{"field":"e"},
"y":{"datum":100,"type":"quantitative","axis":null,"scale":{"domain":[0,100],"nice":false,"zero":false}},
"y2":{"datum":0}}},
{"data":{"name":"soc"},"mark":{"type":"rect","color":"#006400","stroke":"#006400","strokeWidth":0.5,"clip":true},
"encoding":{"x":{"field":"t","type":"temporal","title":null},"x2":{"field":"e"},
"y":{"field":"soc","type":"quantitative","title":null,"scale":{"domain":[0,100],"nice":false,"zero":false},
"axis":{"orient":"right","values":[0,20,40,60,80,100],"grid":true,"labelPadding":20,"labelAlign":"left","labelBaseline":"middle","title":"% oder ct/kWh","titleAngle":0,"titleAlign":"left","titleBaseline":"middle","titleX":-73,"titleY":-40}},
"y2":{"datum":0}}},
{"data":{"name":"price"},"mark":{"type":"rect","color":"#a52a2a","stroke":"#a52a2a","strokeWidth":0.5,"clip":true},
"encoding":{"x":{"field":"t","type":"temporal","title":null},"x2":{"field":"e"},
"y":{"field":"p","type":"quantitative","title":null,"axis":null,"scale":{"domain":[0,100],"nice":false,"zero":false}},"y2":{"datum":0}}},
{"data":{"name":"price"},"mark":{"type":"rect","color":"#8b0000","stroke":"#8b0000","strokeWidth":0.5,"clip":true},
"encoding":{"x":{"field":"t","type":"temporal","title":null},"x2":{"field":"e"},
"y":{"field":"w","type":"quantitative","title":null,"axis":null,"scale":{"domain":[0,100],"nice":false,"zero":false}},"y2":{"datum":0}}},
{"data":{"values":[{}]},"mark":{"type":"rule","color":"#a52a2a","strokeDash":[8,5],"strokeWidth":1.5,"clip":false},
"encoding":{"x":{"datum":{"year":2026,"month":6,"date":9,"hours":16,"minutes":7},"type":"temporal"},
"x2":{"datum":{"year":2026,"month":6,"date":10,"hours":15,"minutes":58}},
"y":{"datum":31.05,"type":"quantitative","axis":null,"scale":{"domain":[0,100],"nice":false,"zero":false}}}},
{"data":{"values":[{}]},"mark":{"type":"point","filled":true,"color":"#a52a2a","size":110,"opacity":1,"clip":false},
"encoding":{"x":{"datum":{"year":2026,"month":6,"date":9,"hours":16,"minutes":7},"type":"temporal"},
"y":{"datum":31.05,"type":"quantitative","axis":null,"scale":{"domain":[0,100],"nice":false,"zero":false}}}},
{"data":{"values":[{}]},"mark":{"type":"point","filled":true,"shape":"M1,0L-1,-0.7L-0.5,0L-1,0.7Z","color":"#a52a2a","size":500,"opacity":1,"clip":false},
"encoding":{"x":{"datum":{"year":2026,"month":6,"date":10,"hours":15,"minutes":58},"type":"temporal"},
"y":{"datum":31.05,"type":"quantitative","axis":null,"scale":{"domain":[0,100],"nice":false,"zero":false}}}},
{"data":{"values":[{}]},"mark":{"type":"text","text":"31","align":"left","baseline":"middle","dx":15,"fontSize":20,"color":"#333333","clip":false},
"encoding":{"x":{"datum":{"year":2026,"month":6,"date":10,"hours":16,"minutes":13},"type":"temporal"},
"y":{"datum":31.05,"type":"quantitative","axis":null,"scale":{"domain":[0,100],"nice":false,"zero":false}}}},
{"data":{"name":"pins"},"mark":{"type":"point","shape":"M0,-0.2C-0.2,-0.6,-0.9,-1.1,-0.98,-1.56A1,1,0,1,1,0.98,-1.56C0.9,-1.1,0.2,-0.6,0,-0.2Z","size":3249,"filled":true,"opacity":1,"strokeWidth":0,"clip":false},
"encoding":{"x":{"field":"t","type":"temporal","title":null},"y":{"field":"v","type":"quantitative","axis":null,"scale":{"domain":[0,100],"nice":false,"zero":false}},
"fill":{"condition":{"test":"datum.s == 'Strompreis'","value":"#a52a2a"},"value":"#8b0000"}}},
{"data":{"name":"pins"},"mark":{"type":"text","dy":-50,"fontSize":21,"strokeWidth":3,"align":"center","baseline":"middle","clip":false},
"encoding":{"x":{"field":"t","type":"temporal","title":null},"y":{"field":"v","type":"quantitative","axis":null,"scale":{"domain":[0,100],"nice":false,"zero":false}},"text":{"field":"l"},
"stroke":{"condition":{"test":"datum.s == 'Strompreis'","value":"#a52a2a"},"value":"#8b0000"},
"fill":{"condition":{"test":"datum.s == 'Strompreis'","value":"#a52a2a"},"value":"#8b0000"}}},
{"data":{"name":"pins"},"mark":{"type":"text","dy":-50,"fontSize":21,"align":"center","baseline":"middle","color":"#f4f4f4","clip":false},
"encoding":{"x":{"field":"t","type":"temporal","title":null},"y":{"field":"v","type":"quantitative","axis":null,"scale":{"domain":[0,100],"nice":false,"zero":false}},"text":{"field":"l"}}},
{"data":{"values":[{}]},"mark":{"type":"rule","color":"#b3bac6","strokeDash":[6,4],"strokeWidth":1.5,"opacity":0.85},
"encoding":{"x":{"datum":{"year":2026,"month":6,"date":10,"hours":7,"minutes":44},"type":"temporal"},
"y":{"datum":100,"type":"quantitative","axis":null,"scale":{"domain":[0,100],"nice":false,"zero":false}},"y2":{"datum":0}}},
{"data":{"name":"netz"},"mark":{"type":"line","color":"#bbbbbb","strokeWidth":3,"clip":true,"strokeJoin":"round"},
"encoding":{"x":{"field":"t","type":"temporal","title":null},
"y":{"field":"v","type":"quantitative","title":null,"scale":{"domain":[-6000,12000],"nice":false,"zero":false},
"axis":{"orient":"left","values":[-6000,-3000,0,3000,6000,9000,12000],"grid":true,"labelPadding":16,"labelExpr":"(datum.value < 0 ? '-' : '') + replace(format(abs(datum.value), ','), ',', '.')","title":"W","titleAngle":0,"titleAlign":"center","titleBaseline":"middle","titleX":-1,"titleY":-40}}}},
{"data":{"name":"batt"},"mark":{"type":"line","color":"#98fb98","strokeWidth":3,"clip":true,"strokeJoin":"round"},
"encoding":{"x":{"field":"t","type":"temporal","title":null},"y":{"field":"v","type":"quantitative","axis":null,"scale":{"domain":[-6000,12000],"nice":false,"zero":false}}}},
{"data":{"values":[{}]},"mark":{"type":"point","filled":true,"fill":"#ffffff","stroke":"#aaaaaa","strokeWidth":2,"size":70,"opacity":1},
"encoding":{"x":{"datum":{"year":2026,"month":6,"date":10,"hours":7,"minutes":44},"type":"temporal"},"y":{"datum":-2637.72,"type":"quantitative","axis":null,"scale":{"domain":[-6000,12000],"nice":false,"zero":false}}}},
{"data":{"values":[{}]},"mark":{"type":"rect","fillOpacity":0,"stroke":"#000000","strokeOpacity":0.035,"strokeWidth":16,"cornerRadius":12,"clip":false},
"encoding":{"x":{"datum":{"year":2026,"month":6,"date":9,"hours":20,"minutes":10,"seconds":7},"type":"temporal"},"x2":{"datum":{"year":2026,"month":6,"date":10,"hours":6,"minutes":45,"seconds":43}},
"y":{"datum":8210.6,"type":"quantitative","axis":null,"scale":{"domain":[-6000,12000],"nice":false,"zero":false}},"y2":{"datum":1749.2}}},
{"data":{"values":[{}]},"mark":{"type":"rect","fillOpacity":0,"stroke":"#000000","strokeOpacity":0.05,"strokeWidth":7,"cornerRadius":10,"clip":false},
"encoding":{"x":{"datum":{"year":2026,"month":6,"date":9,"hours":20,"minutes":10,"seconds":7},"type":"temporal"},"x2":{"datum":{"year":2026,"month":6,"date":10,"hours":6,"minutes":45,"seconds":43}},
"y":{"datum":8210.6,"type":"quantitative","axis":null,"scale":{"domain":[-6000,12000],"nice":false,"zero":false}},"y2":{"datum":1749.2}}},
{"data":{"values":[{}]},"mark":{"type":"rect","fill":"#ffffff","stroke":"#ffffff","strokeWidth":1,"cornerRadius":8,"clip":false},
"encoding":{"x":{"datum":{"year":2026,"month":6,"date":9,"hours":20,"minutes":10,"seconds":7},"type":"temporal"},"x2":{"datum":{"year":2026,"month":6,"date":10,"hours":6,"minutes":45,"seconds":43}},
"y":{"datum":8210.6,"type":"quantitative","axis":null,"scale":{"domain":[-6000,12000],"nice":false,"zero":false}},"y2":{"datum":1749.2}}},
{"data":{"values":[{}]},"mark":{"type":"text","text":"Mi., 10. Juni 2026 07:44","align":"left","baseline":"middle","fontSize":26,"color":"#666666"},
"encoding":{"x":{"datum":{"year":2026,"month":6,"date":9,"hours":20,"minutes":40,"seconds":18},"type":"temporal"},"y":{"datum":7263,"type":"quantitative","axis":null,"scale":{"domain":[-6000,12000],"nice":false,"zero":false}}}},
{"data":{"name":"tip"},"mark":{"type":"point","filled":true,"size":250,"opacity":1},
"encoding":{"x":{"datum":{"year":2026,"month":6,"date":9,"hours":20,"minutes":54,"seconds":36},"type":"temporal"},"y":{"field":"v","type":"quantitative","axis":null,"scale":{"domain":[-6000,12000],"nice":false,"zero":false}},
"fill":{"condition":[{"test":"datum.n == 'Netz'","value":"#aaaaaa"},{"test":"datum.n == 'Ladestand'","value":"#006400"},{"test":"datum.n == 'Batterie'","value":"#90ee90"},{"test":"datum.n == 'Strompreis'","value":"#a52a2a"}],"value":"#8b0000"}}},
{"data":{"name":"tip"},"mark":{"type":"text","align":"left","baseline":"middle","fontSize":26,"color":"#666666"},
"encoding":{"x":{"datum":{"year":2026,"month":6,"date":9,"hours":21,"minutes":32,"seconds":44},"type":"temporal"},"y":{"field":"v","type":"quantitative","axis":null,"scale":{"domain":[-6000,12000],"nice":false,"zero":false}},"text":{"field":"n"}}},
{"data":{"name":"tip"},"mark":{"type":"text","align":"right","baseline":"middle","fontSize":26,"fontWeight":"bold","color":"#666666"},
"encoding":{"x":{"datum":{"year":2026,"month":6,"date":10,"hours":6,"minutes":13,"seconds":56},"type":"temporal"},"y":{"field":"v","type":"quantitative","axis":null,"scale":{"domain":[-6000,12000],"nice":false,"zero":false}},"text":{"field":"s"}}},
{"data":{"name":"buttons"},"mark":{"type":"rect","color":"#1f1f1f","cornerRadius":10,"clip":false},
"encoding":{"x":{"field":"t","type":"temporal","title":null},"x2":{"field":"e"},"y":{"datum":14700,"type":"quantitative","axis":null,"scale":{"domain":[-6000,12000],"nice":false,"zero":false}},"y2":{"datum":13385}}},
{"data":{"values":[{}]},"mark":{"type":"point","shape":"M0.5,-1L-0.5,0L0.5,1","filled":false,"stroke":"#ffffff","strokeWidth":2.5,"size":484,"opacity":1,"clip":false},
"encoding":{"x":{"datum":{"year":2026,"month":6,"date":10,"hours":13,"minutes":7,"seconds":4},"type":"temporal"},"y":{"datum":14065,"type":"quantitative","axis":null,"scale":{"domain":[-6000,12000],"nice":false,"zero":false}}}},
{"data":{"values":[{}]},"mark":{"type":"point","shape":"M-0.5,-1L0.5,0L-0.5,1","filled":false,"stroke":"#ffffff","strokeWidth":2.5,"size":484,"opacity":1,"clip":false},
"encoding":{"x":{"datum":{"year":2026,"month":6,"date":10,"hours":16,"minutes":36,"seconds":48},"type":"temporal"},"y":{"datum":14065,"type":"quantitative","axis":null,"scale":{"domain":[-6000,12000],"nice":false,"zero":false}}}},
{"data":{"values":[{}]},"mark":{"type":"text","text":"D","align":"center","baseline":"middle","fontSize":20,"color":"#ffffff","clip":false},
"encoding":{"x":{"datum":{"year":2026,"month":6,"date":10,"hours":15,"minutes":7,"seconds":48},"type":"temporal"},"y":{"datum":14000,"type":"quantitative","axis":null,"scale":{"domain":[-6000,12000],"nice":false,"zero":false}}}},
{"data":{"values":[{}]},"mark":{"type":"rect","color":"#888888","cornerRadius":2,"clip":false},
"encoding":{"x":{"datum":{"year":2026,"month":6,"date":10,"hours":14,"minutes":51,"seconds":55},"type":"temporal"},"x2":{"datum":{"year":2026,"month":6,"date":10,"hours":15,"minutes":25,"seconds":18}},
"y":{"datum":13652,"type":"quantitative","axis":null,"scale":{"domain":[-6000,12000],"nice":false,"zero":false}},"y2":{"datum":13555}}},
{"data":{"values":[{"name":"Netz"}]},"transform":[{"filter":"false"}],"mark":{"type":"point","filled":true,"opacity":1},
"encoding":{
"fill":{"field":"name","type":"nominal","scale":{"domain":["Verbrauch","Netz","Ladestand","Batterie","Solar","Strompreis"],"range":["#ffffff","#ffffff","#006400","#ffffff","#ffffff","#a52a2a"]},
"legend":{"title":null,"orient":"none","legendX":-8,"legendY":824,"direction":"horizontal","padding":0,"symbolSize":2116,"symbolStrokeWidth":3,"labelFont":"Noto Sans","labelFontSize":21,"labelOffset":9,"columnPadding":15,"labelLimit":400,
"labelColor":{"expr":"indexof(['Verbrauch','Solar'], datum.value) >= 0 ? '#cccccc' : '#333333'"}}},
"stroke":{"field":"name","type":"nominal","scale":{"domain":["Verbrauch","Netz","Ladestand","Batterie","Solar","Strompreis"],"range":["#cccccc","#aaaaaa","#006400","#90ee90","#cccccc","#a52a2a"]}},
"shape":{"field":"name","type":"nominal","scale":{"domain":["Verbrauch","Netz","Ladestand","Batterie","Solar","Strompreis"],"range":["M-1,0L-0.4,0M0.4,0L1,0M-0.4,0A0.4,0.4,0,1,1,0.4,0A0.4,0.4,0,1,1,-0.4,0Z","M-1,0L-0.4,0M0.4,0L1,0M-0.4,0A0.4,0.4,0,1,1,0.4,0A0.4,0.4,0,1,1,-0.4,0Z","M-0.75,-0.55L0.75,-0.55Q0.94,-0.55,0.94,-0.36L0.94,0.36Q0.94,0.55,0.75,0.55L-0.75,0.55Q-0.94,0.55,-0.94,0.36L-0.94,-0.36Q-0.94,-0.55,-0.75,-0.55Z","M-1,0L-0.4,0M0.4,0L1,0M-0.4,0A0.4,0.4,0,1,1,0.4,0A0.4,0.4,0,1,1,-0.4,0Z","M-1,0L-0.4,0M0.4,0L1,0M-0.4,0A0.4,0.4,0,1,1,0.4,0A0.4,0.4,0,1,1,-0.4,0Z","M-0.75,-0.55L0.75,-0.55Q0.94,-0.55,0.94,-0.36L0.94,0.36Q0.94,0.55,0.75,0.55L-0.75,0.55Q-0.94,0.55,-0.94,0.36L-0.94,-0.36Q-0.94,-0.55,-0.75,-0.55Z"]}}}},
{"data":{"values":[{"name":"günstig"}]},"transform":[{"filter":"false"}],"mark":{"type":"point","filled":true,"opacity":1,"shape":"M-0.8,-0.6L0.8,-0.6Q1,-0.6,1,-0.4L1,0.4Q1,0.6,0.8,0.6L-0.8,0.6Q-1,0.6,-1,0.4L-1,-0.4Q-1,-0.6,-0.8,-0.6Z"},
"encoding":{
"color":{"field":"name","type":"nominal","scale":{"domain":["Wärmekosten","günstig","optimal","teuer"],"range":["#8b0000","#90ee90","#cccccc","#cccccc"]},
"legend":{"title":null,"orient":"none","legendX":-8,"legendY":868,"direction":"horizontal","padding":0,"symbolSize":2116,"symbolStrokeWidth":0,"symbolType":"M-0.8,-0.6L0.8,-0.6Q1,-0.6,1,-0.4L1,0.4Q1,0.6,0.8,0.6L-0.8,0.6Q-1,0.6,-1,0.4L-1,-0.4Q-1,-0.6,-0.8,-0.6Z","labelFont":"Noto Sans","labelFontSize":21,"labelOffset":9,"columnPadding":22,"labelLimit":400,
"labelColor":{"expr":"indexof(['optimal','teuer'], datum.value) >= 0 ? '#cccccc' : '#333333'"}}}}}
],
"resolve":{"scale":{"y":"independent"}}
}
